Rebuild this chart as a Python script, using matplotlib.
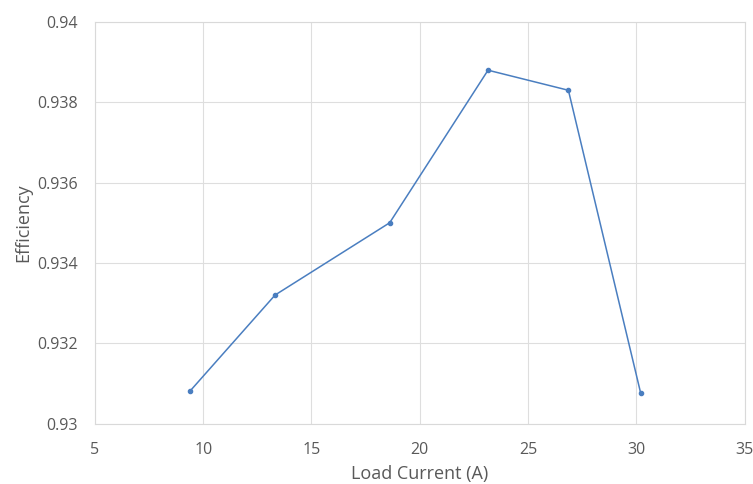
import numpy as np
import matplotlib.pyplot as plt
from matplotlib.ticker import FuncFormatter

# Efficiency measured at each load current
load_current = [9.38, 13.32, 18.61, 23.15, 26.86, 30.2]
efficiency = [0.9308, 0.9332, 0.9350, 0.9388, 0.9383, 0.93075]

x_ticks = [5, 10, 15, 20, 25, 30, 35]
y_ticks = [0.930, 0.932, 0.934, 0.936, 0.938, 0.940]

plt.rcParams['font.family'] = ['Open Sans', 'DejaVu Sans']

fig = plt.figure(figsize=(7.53, 4.84), dpi=100)
ax = fig.add_axes([0.126, 0.125, 0.863, 0.8295])

ax.plot(load_current, efficiency, color='#4A7EC0', linewidth=1.1,
        marker='o', markersize=3, zorder=3)

ax.set_xlim(5, 35)
ax.set_ylim(0.93, 0.94)
ax.set_xticks(x_ticks)
ax.set_yticks(y_ticks)
ax.yaxis.set_major_formatter(FuncFormatter(lambda v, _: f'{v:g}'))

ax.grid(True, color='#DEDEDE', linewidth=0.8)
ax.set_axisbelow(True)
for side in ax.spines.values():
    side.set_color('#D9D9D9')
    side.set_linewidth(0.8)

ax.tick_params(length=0, labelsize=11.5, colors='#595959')
ax.tick_params(axis='y', pad=12)
ax.tick_params(axis='x', pad=13)
ax.set_xlabel('Load Current (A)', fontsize=13, color='#595959', labelpad=5)
ax.set_ylabel('Efficiency', fontsize=13, color='#595959', labelpad=4)

fig.savefig('out.png', dpi=100)
